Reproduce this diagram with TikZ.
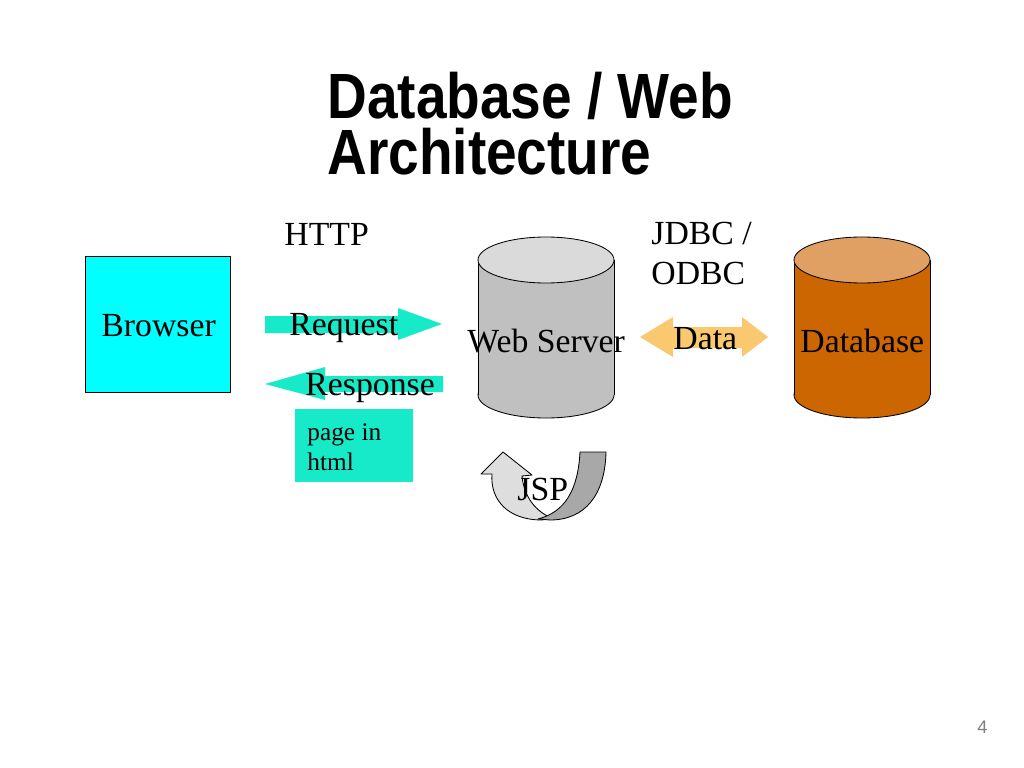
\documentclass[tikz,border=0pt]{standalone}
\usepackage{fontspec}
\setmainfont{Liberation Serif}
\newfontfamily\titlefont{Liberation Sans}
\definecolor{aqua}{RGB}{22,234,200}
\definecolor{boxcyan}{RGB}{0,255,255}
\definecolor{dataorange}{RGB}{250,200,110}
\definecolor{dbbody}{RGB}{204,102,0}
\definecolor{dbtop}{RGB}{224,160,100}
\definecolor{srvbody}{RGB}{192,192,192}
\definecolor{srvtop}{RGB}{218,218,218}
\definecolor{jsplight}{RGB}{222,222,222}
\definecolor{jspdark}{RGB}{168,168,168}
\tikzset{
  lbl/.style={anchor=base west, inner sep=0pt, font=\fontsize{24}{28.3}\selectfont},
  ttl/.style={anchor=base west, inner sep=0pt, xscale=0.86, align=left, font=\titlefont\bfseries\fontsize{45.5}{40.4}\selectfont}
}
\begin{document}
\begin{tikzpicture}[x=0.025cm, y=-0.025cm, line join=round, line width=0.6pt]
	\useasboundingbox (0,0) rectangle (1024,768);
	\fill[white] (0,0) rectangle (1024,768);
	% title
	\node[ttl] (title) at (327,175) {Database / Web\\Architecture};
	% browser
	\draw[fill=boxcyan] (85,256) rectangle (230,392);
	\node[lbl] (browser) at (101,336) {Browser};
	% http arrows
	\node[lbl] (http) at (284,245) {HTTP};
	\fill[aqua] (265,316)--(398,316)--(398,308)--(442,324)--(398,340)--(398,333)--(265,333)--cycle;
	\node[lbl] (request) at (289,335) {Request};
	\fill[aqua] (443,376)--(325,376)--(325,367)--(265,384)--(325,400)--(325,392)--(443,392)--cycle;
	\node[lbl] (response) at (305,395) {Response};
	\fill[aqua] (295,409) rectangle (413,482);
	\node[anchor=base west, inner sep=0pt, align=left, font=\fontsize{18}{21.3}\selectfont] (page) at (307,470) {page in\\html};
	% web server
	\draw[fill=srvbody] (546,395) ellipse [x radius=68, y radius=23];
	\fill[srvbody] (478,260) rectangle (614,395);
	\draw (478,260)--(478,395) (614,260)--(614,395);
	\draw[fill=srvtop] (546,260) ellipse [x radius=68, y radius=23];
	\node[lbl] (server) at (467,352) {Web Server};
	% jsp loop
	\draw[fill=jsplight] (542,520) .. controls (508,520) and (490,500) .. (492,474) -- (481,474) -- (503,452) -- (532,475) -- (522,476) .. controls (524,497) and (536,512) .. (552,518) -- cycle;
	\draw[fill=jspdark] (580,452) -- (606,452) .. controls (605,495) and (585,520) .. (550,520) -- (538,519) .. controls (565,512) and (578,490) .. (580,452) -- cycle;
	\node[lbl] (jsp) at (517,500) {JSP};
	% jdbc
	\node[lbl, align=left] (jdbc) at (651,284) {JDBC /\\ODBC};
	\fill[dataorange] (640,337)--(673,317)--(673,327)--(742,327)--(742,317)--(768,337)--(742,357)--(742,348)--(673,348)--(673,357)--cycle;
	\node[lbl] (data) at (673,349) {Data};
	% database
	\draw[fill=dbbody] (862,395) ellipse [x radius=68, y radius=23];
	\fill[dbbody] (794,260) rectangle (930,395);
	\draw (794,260)--(794,395) (930,260)--(930,395);
	\draw[fill=dbtop] (862,260) ellipse [x radius=68, y radius=23];
	\node[lbl] (database) at (800,352) {Database};
	% page number
	\node[anchor=base east, inner sep=0pt, text=gray, font=\titlefont\fontsize{13}{15}\selectfont] (pagenum) at (988,733) {4};
\end{tikzpicture}
\end{document}
